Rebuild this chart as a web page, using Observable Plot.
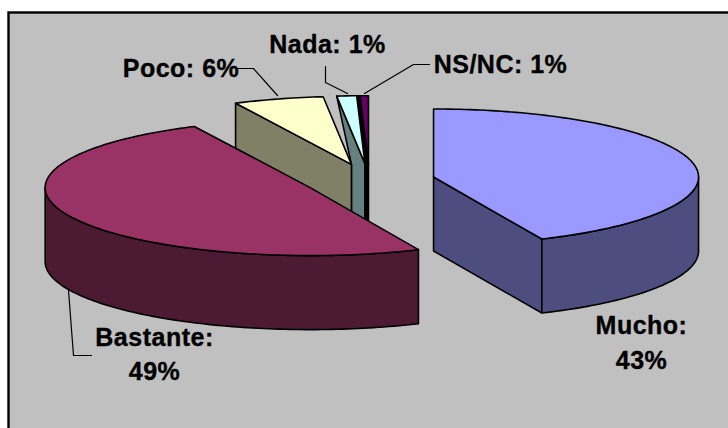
<!DOCTYPE html>
<html><head><meta charset="utf-8">
<script src="https://cdn.jsdelivr.net/npm/d3@7"></script>
<script src="https://cdn.jsdelivr.net/npm/@observablehq/plot@0.6"></script>
<style>html,body{margin:0;padding:0;background:#fff}svg{display:block}</style>
</head><body><div id="chart"></div>
<script>
const categories = ["Mucho","Bastante","Poco","Nada","NS/NC"];
const values = [43.3,49.5,5.5,1.2,0.5];
const topColors = ["#9999FF","#993366","#FFFFCC","#CCFFFF","#660066"];
const wallColors = ["#4D4D80","#4D1A33","#808066","#668080","#330033"];
const percentLabels = ["43%","49%","6%","1%","1%"];

// pie projection
const C = {x:369,y:180}, A = 265, B = 68, DEPTH = 74, EXPLODE = 65.5;
const total = d3.sum(values);
let cum = 0;
const slices = values.map((v,i)=>{
  const t0 = cum/total*2*Math.PI; cum += v; const t1 = cum/total*2*Math.PI;
  const m = (t0+t1)/2;
  const cx = C.x + EXPLODE*Math.sin(m), cy = C.y - EXPLODE*B/A*Math.cos(m);
  const P = (t,d=0)=>[cx+A*Math.sin(t), cy-B*Math.cos(t)+d];
  return {i,t0,t1,cx,cy,P};
});
const arc = (s,a,b,d=0)=>{
  const n = Math.max(2,Math.ceil(Math.abs(b-a)/0.02));
  return d3.range(n+1).map(k=>s.P(a+(b-a)*k/n,d));
};
const polys = [];
const add = (pts,fill)=>polys.push({pts,fill});
const [mu,ba,po,na,ns] = slices;
const apex = (s,d=0)=>[s.cx,s.cy+d];

// back small slices
add([na.P(na.t0),apex(po),apex(po,DEPTH),apex(na,DEPTH),apex(na)],wallColors[3]);
add([apex(na),apex(ns),apex(ns,DEPTH),apex(na,DEPTH)],"#000");
add([na.P(na.t1),ns.P(ns.t0),apex(ns),apex(na)],"#000");
add([apex(po),po.P(po.t0),po.P(po.t0,DEPTH),apex(po,DEPTH)],wallColors[2]);
add([apex(po),...arc(po,po.t0,po.t1)],topColors[2]);
add([apex(ns),...arc(ns,ns.t0,ns.t1)],topColors[4]);
add([apex(na),...arc(na,na.t0,na.t1)],topColors[3]);
// Bastante
add([...arc(ba,ba.t0,3*Math.PI/2),...arc(ba,3*Math.PI/2,ba.t0,DEPTH)],wallColors[1]);
add([apex(ba),...arc(ba,ba.t0,ba.t1)],topColors[1]);
// Mucho
add([apex(mu),mu.P(mu.t1),mu.P(mu.t1,DEPTH),apex(mu,DEPTH)],wallColors[0]);
add([...arc(mu,Math.PI/2,mu.t1),...arc(mu,mu.t1,Math.PI/2,DEPTH)],wallColors[0]);
add([apex(mu),...arc(mu,mu.t0,mu.t1)],topColors[0]);

const rows = polys.flatMap((p,z)=>[...p.pts,p.pts[0]].map(([x,y])=>({x,y,z,fill:p.fill})));

const leaders = [
  [[237,68],[253,68],[277,95]],
  [[325,66],[325,82],[347,93]],
  [[429,64],[413,64],[364,93]],
  [[68,290],[73,355],[91,355]]
].flatMap((l,z)=>l.map(([x,y])=>({x,y,z})));

const labels = [
  {x:641,y:325.5,text:categories[0]+":"},
  {x:641,y:360,text:percentLabels[0]},
  {x:154,y:337,text:categories[1]+":"},
  {x:154,y:371,text:percentLabels[1]},
  {x:180.5,y:68,text:`${categories[2]}: ${percentLabels[2]}`},
  {x:327,y:44,text:`${categories[3]}: ${percentLabels[3]}`},
  {x:500,y:64,text:`${categories[4]}: ${percentLabels[4]}`}
];

const plot = Plot.plot({
  width:728,height:428,margin:0,
  style:{letterSpacing:"0.5px"},
  x:{domain:[0,728],range:[0,728],axis:null},
  y:{domain:[0,428],range:[0,428],axis:null},
  marks:[
    Plot.rect([{x1:8.5,x2:740,y1:12.5,y2:440}],{x1:"x1",x2:"x2",y1:"y1",y2:"y2",fill:"#C0C0C0",stroke:"#000",strokeWidth:2.4}),
    Plot.line(rows,{x:"x",y:"y",z:"z",fill:"fill",stroke:"#000",strokeWidth:1.6,strokeLinejoin:"round",curve:"linear"}),
    Plot.line(leaders,{x:"x",y:"y",z:"z",stroke:"#000",strokeWidth:1.2}),
    Plot.text(labels,{x:"x",y:"y",text:"text",fontFamily:"Liberation Sans",fontWeight:"bold",fontSize:25,fill:"#000",stroke:"#000",strokeWidth:0.35,textAnchor:"middle"})
  ]
});
document.getElementById("chart").append(plot);
</script></body></html>
